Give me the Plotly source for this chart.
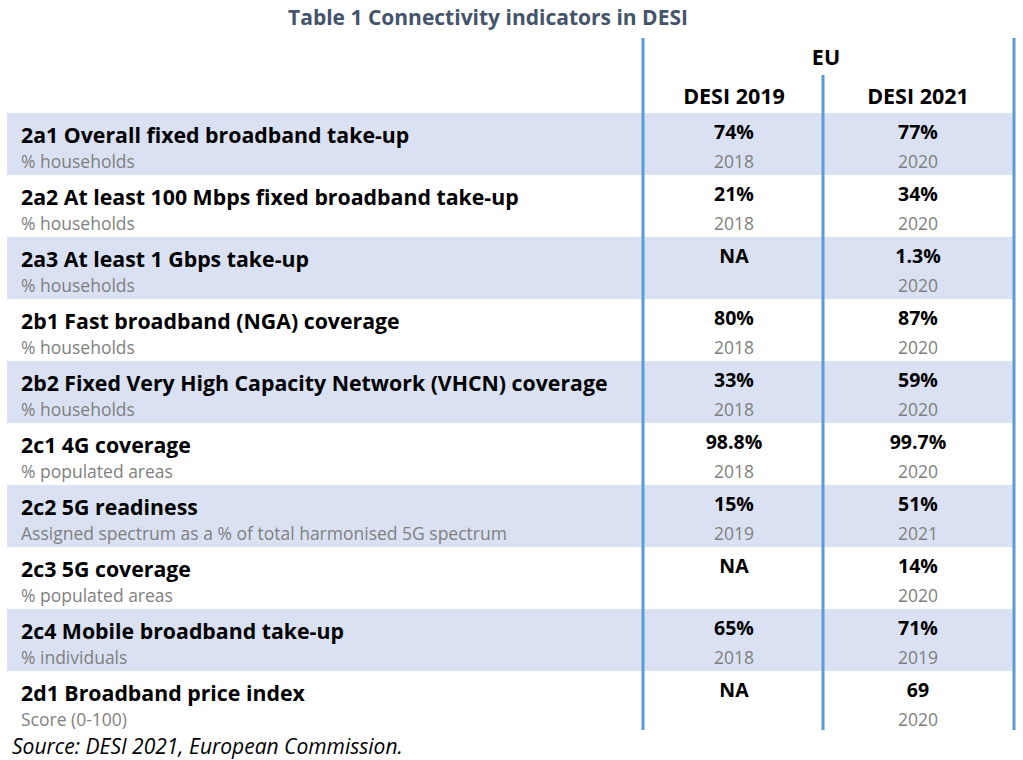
import plotly.graph_objects as go

indicators = [
    "2a1 Overall fixed broadband take-up",
    "2a2 At least 100 Mbps fixed broadband take-up",
    "2a3 At least 1 Gbps take-up",
    "2b1 Fast broadband (NGA) coverage",
    "2b2 Fixed Very High Capacity Network (VHCN) coverage",
    "2c1 4G coverage",
    "2c2 5G readiness",
    "2c3 5G coverage",
    "2c4 Mobile broadband take-up",
    "2d1 Broadband price index",
]
units = [
    "% households", "% households", "% households", "% households", "% households",
    "% populated areas",
    "Assigned spectrum as a % of total harmonised 5G spectrum",
    "% populated areas", "% individuals", "Score (0-100)",
]
desi2019_values = ["74%", "21%", "NA", "80%", "33%", "98.8%", "15%", "NA", "65%", "NA"]
desi2019_years = ["2018", "2018", "", "2018", "2018", "2018", "2019", "", "2018", ""]
desi2021_values = ["77%", "34%", "1.3%", "87%", "59%", "99.7%", "51%", "14%", "71%", "69"]
desi2021_years = ["2020", "2020", "2020", "2020", "2020", "2020", "2021", "2020", "2019", "2020"]
column_headers = ["DESI 2019", "DESI 2021"]
group_header = "EU"
title_text = "Table 1 Connectivity indicators in DESI"
source_text = "Source: DESI 2021, European Commission."

FONT = "Open Sans"
BLUE = "#5B9BD5"
SHADE = "#DAE1F2"
GRAY = "#7F7F7F"

n = len(indicators)
rows = list(range(n))
# y axis in row units: row i spans [i, i+1]; pixel = 113 + 62*y
y_top = -113 / 62
y_bot = (760 - 113) / 62

fig = go.Figure()

shapes = []
for i in rows:
    if i % 2 == 0:
        shapes.append(dict(type="rect", x0=7, x1=1014, y0=i, y1=i + 1,
                           fillcolor=SHADE, line=dict(width=0), layer="below"))
col_x = [643, 823, 1014]
line_top = [(38 - 113) / 62, (75 - 113) / 62, (38 - 113) / 62]
for x, yt in zip(col_x, line_top):
    shapes.append(dict(type="line", x0=x, x1=x, y0=yt, y1=n - 0.05,
                       line=dict(color=BLUE, width=3)))

label_x = 21
c1 = 734
c2 = 918
bold_off = 24.5 / 62
sub_off = 50.5 / 62
val_off = 21 / 62

fig.add_trace(go.Scatter(
    x=[label_x] * n, y=[i + bold_off for i in rows], text=indicators,
    mode="text", textposition="middle right",
    textfont=dict(family=FONT, size=21.3, color="black", weight="bold"),
    hoverinfo="skip", cliponaxis=False, showlegend=False))
fig.add_trace(go.Scatter(
    x=[label_x] * n, y=[i + sub_off for i in rows], text=units,
    mode="text", textposition="middle right",
    textfont=dict(family=FONT, size=17.5, color=GRAY),
    hoverinfo="skip", cliponaxis=False, showlegend=False))
for cx, vals, yrs in [(c1, desi2019_values, desi2019_years), (c2, desi2021_values, desi2021_years)]:
    fig.add_trace(go.Scatter(
        x=[cx] * n, y=[i + val_off for i in rows], text=vals,
        mode="text", textposition="middle center",
        textfont=dict(family=FONT, size=19.5, color="black", weight="bold"),
        hoverinfo="skip", cliponaxis=False, showlegend=False))
    fig.add_trace(go.Scatter(
        x=[cx] * n, y=[i + sub_off for i in rows], text=yrs,
        mode="text", textposition="middle center",
        textfont=dict(family=FONT, size=17.5, color=GRAY),
        hoverinfo="skip", cliponaxis=False, showlegend=False))

# headers
fig.add_trace(go.Scatter(
    x=[826, c1, c2], y=[(60 - 113) / 62, (98.5 - 113) / 62, (98.5 - 113) / 62],
    text=[group_header] + column_headers, mode="text", textposition="middle center",
    textfont=dict(family=FONT, size=21.5, color="black", weight="bold"),
    hoverinfo="skip", cliponaxis=False, showlegend=False))
fig.add_trace(go.Scatter(
    x=[488], y=[(19.5 - 113) / 62], text=[title_text], mode="text",
    textposition="middle center",
    textfont=dict(family=FONT, size=21, color="#44546A", weight="bold"),
    hoverinfo="skip", cliponaxis=False, showlegend=False))
fig.add_trace(go.Scatter(
    x=[12], y=[(748.5 - 113) / 62], text=[source_text], mode="text",
    textposition="middle right",
    textfont=dict(family=FONT, size=21, color="black", style="italic"),
    hoverinfo="skip", cliponaxis=False, showlegend=False))

fig.update_layout(
    width=1023, height=760,
    margin=dict(l=0, r=0, t=0, b=0),
    paper_bgcolor="white", plot_bgcolor="white",
    shapes=shapes,
    xaxis=dict(range=[0, 1023], visible=False, fixedrange=True),
    yaxis=dict(range=[y_bot, y_top], visible=False, fixedrange=True),
)

fig.write_html("out.html", config={"displayModeBar": False},
               post_script="document.body.style.margin='0';document.body.style.overflow='hidden';")
